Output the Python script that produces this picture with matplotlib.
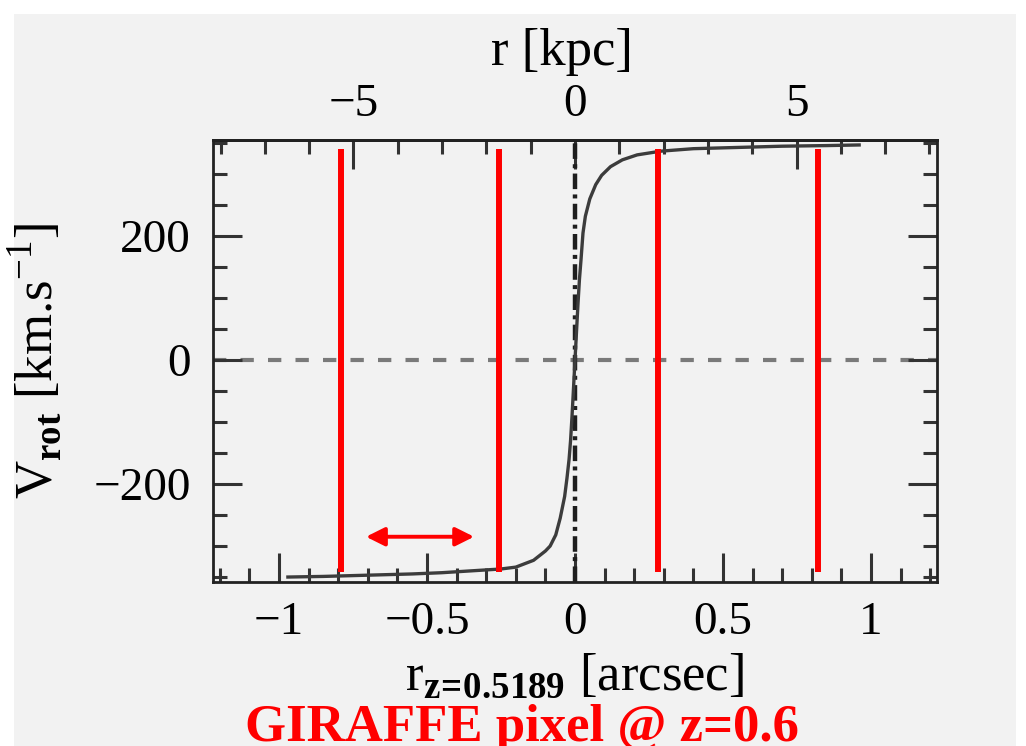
import matplotlib
matplotlib.use('Agg')
import matplotlib.pyplot as plt
from matplotlib.patches import Rectangle
from matplotlib.ticker import MultipleLocator

plt.rcParams['font.family'] = 'Liberation Serif'
plt.rcParams['mathtext.fontset'] = 'custom'
plt.rcParams['mathtext.rm'] = 'Liberation Serif'
plt.rcParams['mathtext.bf'] = 'Liberation Serif:bold'

# rotation curve (arcsec, km/s)
r_arcsec = [-0.97, -0.85, -0.70, -0.55, -0.45, -0.35, -0.25, -0.20, -0.14, -0.10,
            -0.084, -0.065, -0.05, -0.035, -0.027, -0.02, -0.015, -0.01, -0.005, 0.0,
            0.005, 0.01, 0.015, 0.02, 0.027, 0.035, 0.05, 0.07, 0.09, 0.12,
            0.16, 0.21, 0.29, 0.40, 0.55, 0.70, 0.85, 0.96]
v_rot = [-350, -349, -347, -345, -343, -340, -337, -334, -323, -308,
         -300, -282, -255, -220, -190, -160, -130, -90, -45, 0,
         45, 90, 130, 160, 205, 232, 260, 283, 298, 312,
         323, 331, 337, 341, 343, 345, 346, 347]

# GIRAFFE pixel edges (arcsec)
pixel_edges = [-0.791, -0.257, 0.282, 0.820]
pixel_v_range = [-342, 340]
arrow_x = [-0.706, -0.341]
arrow_v = -285

kpc_per_arcsec = 6.68
xlim = (-1.223, 1.223)
ylim = (-358, 355)

bg = '#f2f2f2'
fig = plt.figure(figsize=(10.26, 7.46), dpi=100)
fig.patches.append(Rectangle((14 / 1026, 0), (1016 - 14) / 1026, (746 - 14) / 746,
                             transform=fig.transFigure, facecolor=bg, edgecolor='none', zorder=-1))

ax = fig.add_axes([213 / 1026, 1 - 582 / 746, 724 / 1026, 442 / 746])
ax.set_facecolor(bg)
ax.set_xlim(*xlim)
ax.set_ylim(*ylim)

ax.axhline(0, color='#7a7a7a', lw=3.0, dashes=(3.2, 3.4), zorder=1)
ax.axvline(0, color='#1e1e1e', lw=3.2, linestyle=(0, (3.5, 1.2, 0.9, 1.2)), zorder=2)
ax.plot(r_arcsec, v_rot, color='#3c3c3c', lw=2.4, zorder=3)

ax.vlines(pixel_edges, pixel_v_range[0], pixel_v_range[1], color='red', lw=4.3, zorder=4)
ax.annotate('', xy=(arrow_x[1], arrow_v), xytext=(arrow_x[0], arrow_v),
            arrowprops=dict(arrowstyle='<|-|>', color='red', lw=2.8,
                            mutation_scale=28, shrinkA=0, shrinkB=0), zorder=5)

for s in ax.spines.values():
    s.set_linewidth(2.0)
    s.set_color('#222222')

ax.xaxis.set_major_locator(MultipleLocator(0.5))
ax.xaxis.set_minor_locator(MultipleLocator(0.1))
ax.yaxis.set_major_locator(MultipleLocator(200))
ax.yaxis.set_minor_locator(MultipleLocator(50))
ax.tick_params(which='both', direction='in', top=False, right=True, color='#333333',
               width=2.2, labelsize=34)
ax.tick_params(which='major', length=21)
ax.tick_params(which='minor', length=10)
ax.tick_params(axis='x', pad=14)
ax.tick_params(axis='y', pad=16)
ax.xaxis.set_major_formatter(plt.FuncFormatter(lambda v, p: f'{v:g}'.replace('-', '\u2212')))

top = ax.secondary_xaxis('top', functions=(lambda x: x * kpc_per_arcsec,
                                           lambda x: x / kpc_per_arcsec))
top.xaxis.set_major_locator(MultipleLocator(5))
top.xaxis.set_minor_locator(MultipleLocator(1))
top.tick_params(which='both', direction='in', color='#333333', width=2.2,
                labelsize=34, pad=10)
top.tick_params(which='major', length=21)
top.tick_params(which='minor', length=10)
top.spines['top'].set_linewidth(2.0)

fig.text(562 / 1026, 1 - 76 / 746, 'r [kpc]', fontsize=38, ha='center', va='bottom')
ax.set_xlabel(r'r$_{\mathbf{z\!=\!0.5189}}$ [arcsec]', fontsize=38)
ax.xaxis.set_label_coords(0.5, -0.16)
ax.set_ylabel(r'V$_{\mathbf{rot}}$ [km.s$^{-1}$]', fontsize=38)
ax.yaxis.set_label_coords(-0.207, 0.5)

fig.text(522 / 1026, 5 / 746, 'GIRAFFE pixel @ z=0.6', color='red', fontsize=38,
         fontweight='bold', ha='center', va='baseline')

fig.savefig('out.png', dpi=100)
